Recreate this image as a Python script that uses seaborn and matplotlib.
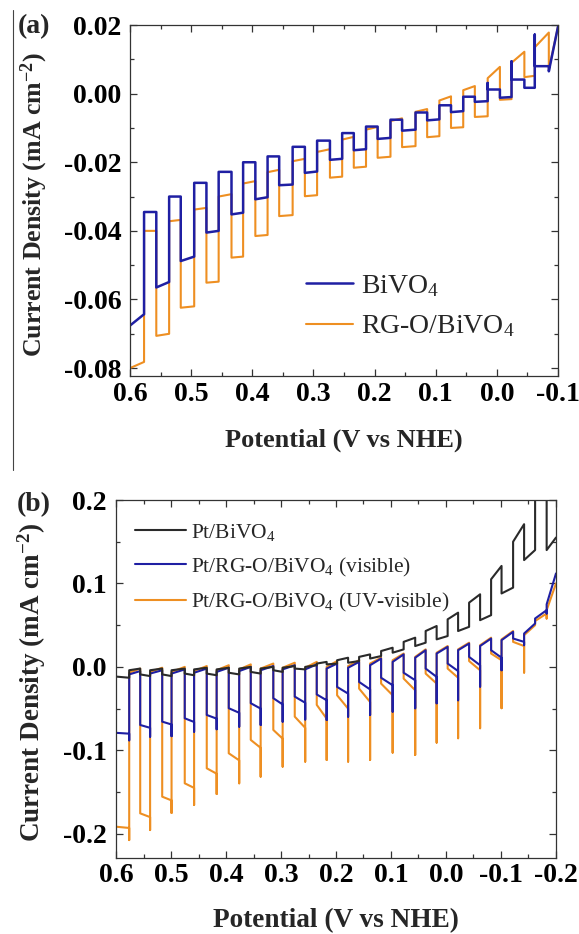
import matplotlib
matplotlib.use("Agg")
import matplotlib.pyplot as plt
from matplotlib.ticker import MultipleLocator, FuncFormatter
from matplotlib.lines import Line2D
import seaborn as sns

# ---------------- panel (a): chopped-light scans, 0.6 -> -0.1 V ----------------
# potentials where the lamp is blocked (trace jumps up) and opened (trace drops)
a_dark_from = [0.577, 0.536, 0.495, 0.455, 0.415, 0.375, 0.334, 0.294, 0.253,
               0.214, 0.174, 0.133, 0.094, 0.055, 0.015, -0.024, -0.062]
a_light_from = [0.557, 0.517, 0.475, 0.434, 0.395, 0.356, 0.314, 0.273, 0.234,
                0.195, 0.155, 0.114, 0.075, 0.036, -0.005, -0.045, -0.085]
a_scan = [0.6, -0.1]

# BiVO4 (mA cm^-2)
bivo4_light_start = [-0.0676, -0.0565, -0.0488, -0.0405, -0.0352, -0.0308, -0.0267,
                     -0.0231, -0.0193, -0.0165, -0.0132, -0.0108, -0.0078, -0.0054,
                     -0.0024, -0.0012, 0.0017, 0.0065]
bivo4_light_end = [-0.0643, -0.0549, -0.0475, -0.0400, -0.0347, -0.0302, -0.0265,
                   -0.0227, -0.0190, -0.0162, -0.0129, -0.0105, -0.0075, -0.0051,
                   -0.0022, -0.0010, 0.0017, 0.0195]
bivo4_dark = [-0.0345, -0.0300, -0.0260, -0.0228, -0.0200, -0.0183, -0.0155,
              -0.0137, -0.0115, -0.0096, -0.0076, -0.0055, -0.0034, -0.0009,
              0.0012, 0.0041, 0.0080]
bivo4_dark_peak = [-0.0345, -0.0300, -0.0260, -0.0228, -0.0200, -0.0183, -0.0155,
                   -0.0137, -0.0115, -0.0096, -0.0076, -0.0055, -0.0034, -0.0009,
                   0.0031, 0.0094, 0.0172]

# RG-O/BiVO4 (mA cm^-2)
rgo_light_start = [-0.0800, -0.0706, -0.0624, -0.0551, -0.0478, -0.0415, -0.0357,
                   -0.0299, -0.0245, -0.0216, -0.0187, -0.0156, -0.0127, -0.0100,
                   -0.0068, -0.0018, 0.0048, 0.0070]
rgo_light_end = [-0.0782, -0.0700, -0.0620, -0.0548, -0.0475, -0.0412, -0.0354,
                 -0.0296, -0.0242, -0.0213, -0.0184, -0.0153, -0.0124, -0.0098,
                 -0.0066, -0.0016, 0.0052, 0.0195]
rgo_dark_start = [-0.0400, -0.0372, -0.0338, -0.0300, -0.0262, -0.0229, -0.0197,
                  -0.0170, -0.0134, -0.0105, -0.0080, -0.0053, -0.0020, 0.0010,
                  0.0045, 0.0090, 0.0135]
rgo_dark_end = [-0.0400, -0.0368, -0.0333, -0.0293, -0.0255, -0.0222, -0.0190,
                -0.0162, -0.0126, -0.0097, -0.0072, -0.0045, -0.0008, 0.0022,
                0.0078, 0.0122, 0.0178]

# ---------------- panel (b): chopped-light scans, 0.6 -> -0.2 V ----------------
b_dark_from = [0.576, 0.538, 0.499, 0.458, 0.417, 0.376, 0.337, 0.297, 0.256, 0.217,
               0.178, 0.138, 0.097, 0.056, 0.017, -0.022, -0.062, -0.101, -0.142, -0.183]
b_light_from = [0.556, 0.516, 0.475, 0.435, 0.395, 0.355, 0.314, 0.275, 0.235, 0.198,
                0.158, 0.118, 0.077, 0.037, -0.003, -0.042, -0.082, -0.122, -0.162]
b_scan = [0.6, -0.2]

# Pt/BiVO4
pt_light_start = [-0.0116, -0.009, -0.009, -0.008, -0.008, -0.007, -0.006, -0.004, -0.002,
                  0.004, 0.008, 0.012, 0.019, 0.030, 0.043, 0.057, 0.077, 0.105, 0.150, 0.230]
pt_light_end = [-0.013, -0.011, -0.011, -0.010, -0.010, -0.009, -0.008, -0.006, -0.003,
                0.006, 0.011, 0.015, 0.023, 0.035, 0.049, 0.065, 0.087, 0.121, 0.171, 0.260]
pt_dark_start = [-0.004, -0.004, -0.004, -0.003, -0.003, -0.002, -0.002, -0.001, 0.000,
                 0.003, 0.005, 0.010, 0.017, 0.025, 0.033, 0.043, 0.056, 0.088, 0.128, 0.140]
pt_dark_end = [-0.002, -0.002, -0.002, -0.001, -0.001, 0.000, 0.000, 0.001, 0.002,
               0.004, 0.007, 0.013, 0.021, 0.029, 0.037, 0.048, 0.062, 0.095, 0.140, 0.155]

# Pt/RG-O/BiVO4 under visible light
vis_light_start = [-0.079, -0.0696, -0.0656, -0.0616, -0.0576, -0.0495, -0.0435, -0.0375,
                   -0.0356, -0.033, -0.024, -0.018, -0.013, -0.007, -0.002, 0.004, 0.012,
                   0.020, 0.034, 0.058]
vis_light_end = [-0.080, -0.073, -0.069, -0.066, -0.062, -0.055, -0.050, -0.045, -0.043,
                 -0.040, -0.032, -0.027, -0.022, -0.016, -0.012, -0.005, 0.002, 0.011,
                 0.030, 0.068]
vis_spike = [-0.088, -0.0836, -0.083, -0.0776, -0.0747, -0.0716, -0.0696, -0.0656, -0.063,
             -0.0636, -0.0596, -0.0576, -0.0536, -0.0496, -0.0436, -0.040, -0.0236,
             -0.004, 0.026, 0.064]
vis_dark_start = [-0.009, -0.008, -0.008, -0.007, -0.006, -0.005, -0.004, -0.003, -0.003,
                  -0.002, -0.001, 0.002, 0.006, 0.011, 0.016, 0.020, 0.025, 0.032, 0.040, 0.075]
vis_dark_end = [-0.005, -0.004, -0.003, -0.002, -0.001, 0.000, 0.001, 0.002, 0.003,
                0.004, 0.006, 0.010, 0.015, 0.020, 0.024, 0.028, 0.034, 0.042, 0.052, 0.112]

# Pt/RG-O/BiVO4 under UV-visible light
uv_light_start = [-0.1915, -0.1755, -0.1555, -0.1395, -0.1215, -0.1035, -0.0875, -0.0755,
                  -0.0596, -0.0455, -0.034, -0.026, -0.020, -0.014, -0.008, -0.002, 0.007,
                  0.016, 0.030, 0.055]
uv_light_end = [-0.193, -0.180, -0.160, -0.145, -0.128, -0.112, -0.097, -0.086, -0.073,
                -0.062, -0.050, -0.042, -0.034, -0.028, -0.020, -0.013, -0.004, 0.008,
                0.025, 0.064]
uv_spike = [-0.2075, -0.1955, -0.175, -0.1655, -0.1523, -0.1395, -0.1315, -0.1195, -0.1135,
            -0.1115, -0.1135, -0.1115, -0.1027, -0.1055, -0.0907, -0.0855, -0.0735,
            -0.0495, -0.0068, 0.058]
uv_dark_start = [-0.007, -0.006, -0.006, -0.005, -0.004, -0.003, -0.002, -0.001, -0.001,
                 0.000, 0.001, 0.004, 0.008, 0.012, 0.017, 0.021, 0.026, 0.033, 0.038, 0.068]
uv_dark_end = [-0.002, -0.001, 0.000, 0.001, 0.002, 0.003, 0.004, 0.005, 0.006,
               0.007, 0.008, 0.011, 0.016, 0.021, 0.025, 0.029, 0.035, 0.043, 0.050, 0.100]

BLUE = "#1f1fa3"
ORANGE = "#ee8f22"
BLACK = "#2a2a2a"


def interleave(first, second):
    out = []
    for i in range(max(len(first), len(second))):
        if i < len(first):
            out.append(first[i])
        if i < len(second):
            out.append(second[i])
    return out


def chopped_trace(edges, starts, ends, jumps):
    """Vertices of a chopped-light scan: each segment runs from starts[k] to ends[k]
    between edges[k] and edges[k+1]; jumps[k] (if not None) is the transient value
    reached on the switching edge before the segment settles."""
    xs, ys = [], []
    for k in range(len(starts)):
        if jumps[k] is not None:
            xs.append(edges[k])
            ys.append(jumps[k])
        xs += [edges[k], edges[k + 1]]
        ys += [starts[k], ends[k]]
    return xs, ys


sns.set_theme(style="ticks")
plt.rcParams.update({
    "font.family": ["Liberation Serif", "DejaVu Serif"],
    "font.weight": "bold",
    "mathtext.fontset": "custom",
    "mathtext.rm": "Liberation Serif:weight=normal",
    "mathtext.it": "Liberation Serif:italic:weight=normal",
    "mathtext.bf": "Liberation Serif:weight=bold",
    "axes.unicode_minus": False,
    "axes.edgecolor": "#333333",
    "axes.linewidth": 0.9,
    "xtick.color": "#333333",
    "ytick.color": "#333333",
    "xtick.labelcolor": "black",
    "ytick.labelcolor": "black",
    "lines.solid_joinstyle": "round",
    "lines.solid_capstyle": "round",
})

fig = plt.figure(figsize=(5.79, 9.34), dpi=100)
W, H = 579.0, 934.0
ax_a = fig.add_axes([130 / W, 1 - 376 / H, 428 / W, 351 / H])
ax_b = fig.add_axes([116 / W, 1 - 858 / H, 440 / W, 358 / H])


def fixed(decimals):
    def f(v, pos):
        if abs(v) < 1e-9:
            v = 0.0
        return f"{v:.{decimals}f}"
    return FuncFormatter(f)


def style_axes(ax, ymajor, yminor, ydec, xpad, ypad):
    ax.xaxis.set_major_locator(MultipleLocator(0.1))
    ax.xaxis.set_minor_locator(MultipleLocator(0.05))
    ax.yaxis.set_major_locator(MultipleLocator(ymajor))
    ax.yaxis.set_minor_locator(MultipleLocator(yminor))
    ax.xaxis.set_major_formatter(fixed(1))
    ax.yaxis.set_major_formatter(fixed(ydec))
    ax.tick_params(which="both", direction="in", top=True, right=True, width=0.9)
    ax.tick_params(which="major", length=5)
    ax.tick_params(which="minor", length=3)
    ax.tick_params(axis="x", which="major", labelsize=20, pad=xpad)
    ax.tick_params(axis="y", which="major", labelsize=20, pad=ypad)
    for s in ax.spines.values():
        s.set_visible(True)
        s.set_linewidth(0.9)


# ---- panel (a)
a_edges = [a_scan[0]] + interleave(a_dark_from, a_light_from) + [a_scan[1]]
n_light_a = len(bivo4_light_start)
xs, ys = chopped_trace(a_edges,
                       interleave(rgo_light_start, rgo_dark_start),
                       interleave(rgo_light_end, rgo_dark_end),
                       [None] * (2 * n_light_a - 1))
sns.lineplot(x=xs, y=ys, sort=False, estimator=None, color=ORANGE, lw=1.5,
             ax=ax_a, label="RG-O/BiVO$_4$")
xs, ys = chopped_trace(a_edges,
                       interleave(bivo4_light_start, bivo4_dark),
                       interleave(bivo4_light_end, bivo4_dark),
                       interleave([None] * n_light_a, bivo4_dark_peak))
sns.lineplot(x=xs, y=ys, sort=False, estimator=None, color=BLUE, lw=1.8,
             ax=ax_a, label="BiVO$_4$")

ax_a.set_xlim(0.6 + 1e-6, -0.1 - 1e-6)
ax_a.set_ylim(-0.0823, 0.02 + 1e-7)
style_axes(ax_a, 0.02, 0.01, 2, xpad=4.5, ypad=6)
ax_a.set_xlabel("Potential (V vs NHE)", fontsize=19, fontweight="bold")
ax_a.set_ylabel("Current Density (mA cm$^{\\mathbf{-2}}$)", fontsize=18.6, fontweight="bold")
ax_a.xaxis.label.set_va("center")
ax_a.yaxis.label.set_va("center")
ax_a.xaxis.set_label_coords(0.5, (376 - 440) / 351)
ax_a.yaxis.set_label_coords((34 - 130) / 428, (376 - 205) / 351)

h, l = ax_a.get_legend_handles_labels()
order = [1, 0]
ax_a.legend([h[i] for i in order], [l[i] for i in order], loc="upper left",
            bbox_to_anchor=((306 - 130) / 428, (376 - 273) / 351),
            frameon=False, borderpad=0, borderaxespad=0, handlelength=1.69,
            handletextpad=0.3, labelspacing=0.53,
            prop={"family": "Liberation Serif", "weight": "normal", "size": 20})

# ---- panel (b)
b_edges = [b_scan[0]] + interleave(b_dark_from, b_light_from) + [b_scan[1]]
n_light_b = len(uv_light_start)
xs, ys = chopped_trace(b_edges,
                       interleave(uv_light_start, uv_dark_start),
                       interleave(uv_light_end, uv_dark_end),
                       interleave([None] * n_light_b, uv_spike))
sns.lineplot(x=xs, y=ys, sort=False, estimator=None, color=ORANGE, lw=1.5,
             ax=ax_b, label="Pt/RG-O/BiVO$_4$ (UV-visible)")
xs, ys = chopped_trace(b_edges,
                       interleave(vis_light_start, vis_dark_start),
                       interleave(vis_light_end, vis_dark_end),
                       interleave([None] * n_light_b, vis_spike))
sns.lineplot(x=xs, y=ys, sort=False, estimator=None, color=BLUE, lw=1.5,
             ax=ax_b, label="Pt/RG-O/BiVO$_4$ (visible)")
xs, ys = chopped_trace(b_edges,
                       interleave(pt_light_start, pt_dark_start),
                       interleave(pt_light_end, pt_dark_end),
                       [None] * (2 * n_light_b))
sns.lineplot(x=xs, y=ys, sort=False, estimator=None, color=BLACK, lw=1.5,
             ax=ax_b, label="Pt/BiVO$_4$")

ax_b.set_xlim(0.6 + 1e-6, -0.2 - 1e-6)
ax_b.set_ylim(-0.229, 0.2 + 1e-6)
style_axes(ax_b, 0.1, 0.05, 1, xpad=3.5, ypad=6.5)
ax_b.set_xlabel("Potential (V vs NHE)", fontsize=19.6, fontweight="bold")
ax_b.set_ylabel("Current Density (mA cm$^{\\mathbf{-2}}$)", fontsize=19.5, fontweight="bold")
ax_b.xaxis.label.set_va("center")
ax_b.yaxis.label.set_va("center")
ax_b.xaxis.set_label_coords(0.5, (858 - 921) / 358)
ax_b.yaxis.set_label_coords((32 - 116) / 440, (858 - 682) / 358)

h, l = ax_b.get_legend_handles_labels()
order = [2, 1, 0]
ax_b.legend([h[i] for i in order], [l[i] for i in order], loc="upper left",
            bbox_to_anchor=((135 - 116) / 440, (858 - 522) / 358),
            frameon=False, borderpad=0, borderaxespad=0, handlelength=2.35,
            handletextpad=0.27, labelspacing=0.58,
            prop={"family": "Liberation Serif", "weight": "normal", "size": 15.5})

# panel letters
fig.text(18 / W, 1 - 27 / H, "(a)", fontsize=20, fontweight="bold", va="center", ha="left")
fig.text(17 / W, 1 - 505 / H, "(b)", fontsize=20, fontweight="bold", va="center", ha="left")

# thin column rule along the left edge of the upper panel
fig.add_artist(Line2D([13 / W, 13 / W], [1 - 10 / H, 1 - 470 / H],
                      transform=fig.transFigure, color="#444444", lw=0.8))

fig.savefig("out.png", dpi=100)
